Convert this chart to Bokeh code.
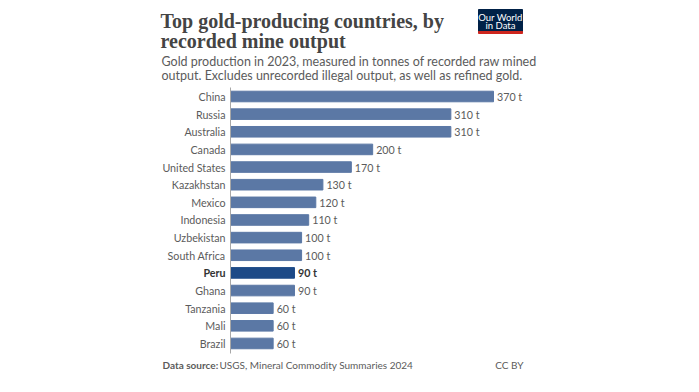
from bokeh.plotting import figure
from bokeh.models import ColumnDataSource, Label, Range1d
from bokeh.core.properties import value
from bokeh.embed import file_html
from bokeh.resources import INLINE

countries = ["China", "Russia", "Australia", "Canada", "United States", "Kazakhstan",
             "Mexico", "Indonesia", "Uzbekistan", "South Africa", "Peru", "Ghana",
             "Tanzania", "Mali", "Brazil"]
tonnes = [370, 310, 310, 200, 170, 130, 120, 110, 100, 100, 90, 90, 60, 60, 60]
value_labels = ["370 t", "310 t", "310 t", "200 t", "170 t", "130 t", "120 t", "110 t",
                "100 t", "100 t", "90 t", "90 t", "60 t", "60 t", "60 t"]
highlight = "Peru"

W, H = 683, 376
OFF = 0
X0_PAGE = 230.0
PX_PER_T = 263.0 / 370.0
ROW0_PAGE = 96.0
ROW_STEP = 17.64

def dx(page_x):
    return (page_x - X0_PAGE) / PX_PER_T

def dy(page_y):
    return (page_y - ROW0_PAGE) / ROW_STEP

n = len(countries)
rows = list(range(n))
colors = ["#1d4a87" if c == highlight else "#5b78a5" for c in countries]
name_colors = ["#333333" if c == highlight else "#5b5b5b" for c in countries]
styles = ["bold" if c == highlight else "normal" for c in countries]

src = ColumnDataSource(dict(y=rows, v=tonnes, c=countries, lab=value_labels,
                            col=colors, ncol=name_colors, st=styles))

p = figure(width=W, height=H, output_backend="svg", toolbar_location=None,
           x_range=Range1d(dx(OFF), dx(OFF + W)), y_range=Range1d(dy(OFF + H), dy(OFF)),
           min_border=0)
p.axis.visible = False
p.grid.visible = False
p.outline_line_color = None
p.background_fill_color = "white"
p.border_fill_color = "white"

p.hbar(y="y", left=0, right="v", height=0.6, color="col", source=src)

p.segment(x0=[0], x1=[0], y0=[dy(87)], y1=[dy(353)], line_color="#a8a8a8", line_width=1)

p.text(x=dx(225), y="y", text="c", source=src, text_align="right", text_baseline="middle",
       text_font=value("Lato"), text_font_size="10.7px", text_color="ncol", text_font_style="st")
p.text(x="v", y="y", text="lab", source=src, x_offset=3.5, text_align="left", text_baseline="middle",
       text_font=value("Lato"), text_font_size="10.7px", text_color="ncol", text_font_style="st")

def lab(txt, px_, py_, size, color, font="Lato", style="normal", align="left"):
    p.add_layout(Label(x=dx(px_), y=dy(py_), text=txt, text_font=font, text_font_size=size,
                       text_color=color, text_font_style=style, text_align=align,
                       text_baseline="middle"))

lab("Top gold-producing countries, by", 160, 20, "20px", "#444444", font="Liberation Serif", style="bold")
lab("recorded mine output", 160, 40.5, "20px", "#444444", font="Liberation Serif", style="bold")
lab("Gold production in 2023, measured in tonnes of recorded raw mined", 161, 61, "12.5px", "#5b5b5b")
lab("output. Excludes unrecorded illegal output, as well as refined gold.", 161, 75, "12.5px", "#5b5b5b")

lab("Data source:", 162, 364, "10px", "#5b5b5b", style="bold")
lab("USGS, Mineral Commodity Summaries 2024", 219, 364, "10px", "#5b5b5b")
lab("CC BY", 523, 364, "10px", "#5b5b5b", align="right")

p.quad(left=[dx(478)], right=[dx(522)], top=[dy(9)], bottom=[dy(31)], color="#002147")
p.quad(left=[dx(478)], right=[dx(522)], top=[dy(31)], bottom=[dy(33)], color="#ce261e")
lab("Our World", 500, 16.5, "9.5px", "white", align="center")
lab("in Data", 500, 24.5, "9.5px", "white", align="center")

open("out.html", "w").write(file_html(p, INLINE))
